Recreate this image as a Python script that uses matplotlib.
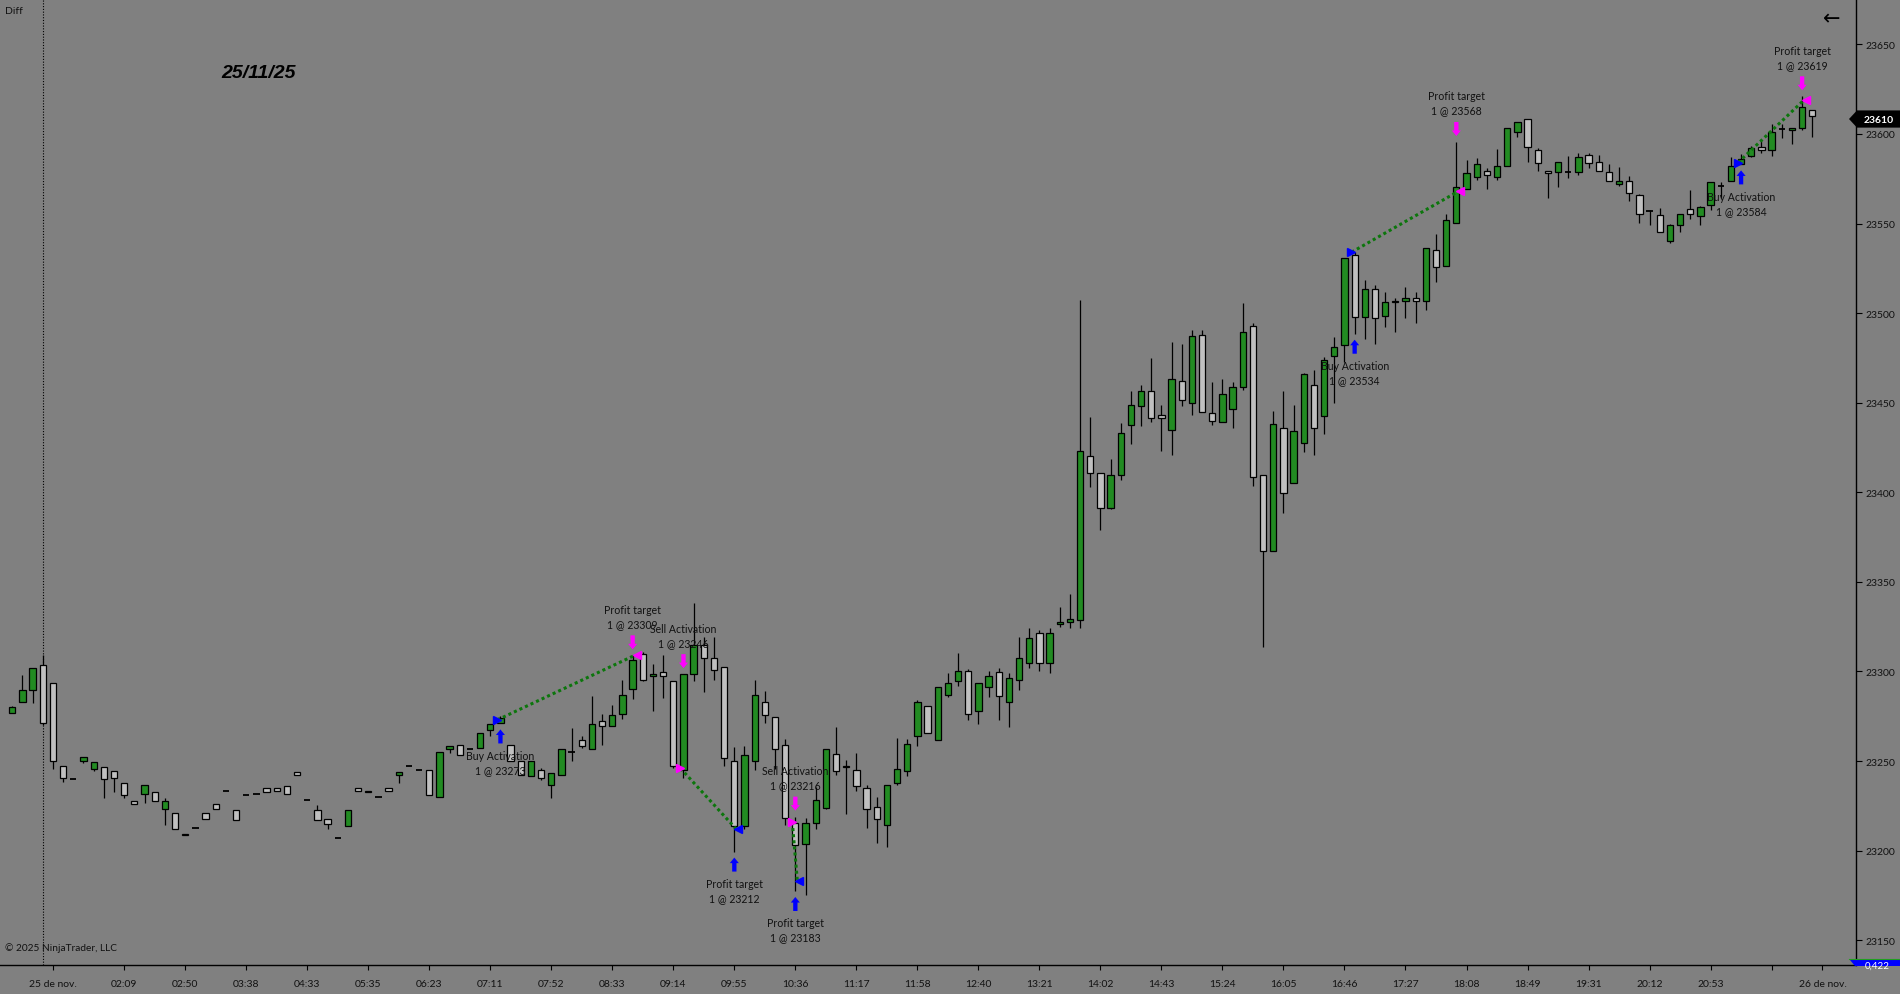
import matplotlib
matplotlib.use('Agg')
import matplotlib.pyplot as plt
import matplotlib.transforms as mtransforms
from matplotlib.patches import Polygon
import numpy as np

# velas (OHLC), una por barra
opens = [
    23277, 23283, 23289.5, 23303.5, 23293.5, 23247.5, 23240, 23250, 23245.5, 23246.5,
    23244.5, 23237.5, 23227.5, 23231.5, 23232.5, 23223.5, 23221, 23209.5, 23212.5, 23221,
    23226, 23233.5, 23222.5, 23231, 23231.5, 23235, 23235, 23236, 23244, 23228.5,
    23222.5, 23217.5, 23207, 23213.5, 23235, 23232.5, 23230, 23235, 23242.5, 23247.5,
    23245, 23245, 23230, 23256.5, 23259, 23256.5, 23257.5, 23267.5, 23271.5, 23259,
    23250, 23241.5, 23245, 23236.5, 23242.5, 23255, 23261.5, 23256.5, 23272.5, 23269.5,
    23276.5, 23290.5, 23309.5, 23297.5, 23299.5, 23294.5, 23245, 23298.5, 23315, 23307.5,
    23302.5, 23250, 23213.5, 23250, 23283, 23274.5, 23259, 23215.5, 23203.5, 23215.5,
    23224, 23254, 23246.5, 23245, 23235, 23224.5, 23214.5, 23237.5, 23244.5, 23264,
    23280.5, 23261.5, 23287, 23294.5, 23300.5, 23278, 23291.5, 23299.5, 23283, 23295.5,
    23304.5, 23321.5, 23304.5, 23326.5, 23327.5, 23328.5, 23420, 23411, 23391, 23409.5,
    23437.5, 23448, 23456.5, 23443, 23435, 23462, 23450, 23488, 23444, 23439,
    23446.5, 23459, 23493, 23409.5, 23367, 23436, 23405, 23427.5, 23460, 23442.5,
    23476, 23482, 23532.5, 23498, 23513.5, 23498.5, 23506, 23507, 23508.5, 23507,
    23535, 23526.5, 23550.5, 23569.5, 23576, 23579.5, 23576, 23582, 23601, 23608.5,
    23591, 23579.5, 23578.5, 23578.5, 23578.5, 23588.5, 23584.5, 23578.5, 23572, 23573.5,
    23566, 23557, 23554.5, 23540.5, 23549, 23558, 23554, 23560.5, 23571, 23573.5,
    23583, 23587.5, 23592.5, 23591, 23602.5, 23602, 23603.5, 23613.5,
]
highs = [
    23281, 23298, 23302, 23309, 23293.5, 23247.5, 23240, 23252.5, 23249.5, 23246.5,
    23244.5, 23237.5, 23227.5, 23236.5, 23232.5, 23229.5, 23221, 23209.5, 23212.5, 23221,
    23226, 23233.5, 23222.5, 23231, 23231.5, 23235, 23235, 23236, 23244, 23228.5,
    23225.5, 23217.5, 23207, 23222.5, 23235, 23233.5, 23230, 23235, 23244, 23247.5,
    23245, 23245, 23255, 23258.5, 23259, 23256.5, 23265.5, 23270.5, 23275, 23259,
    23250, 23250, 23246, 23243.5, 23256.5, 23268.5, 23264, 23286.5, 23276.5, 23281.5,
    23295, 23309, 23311, 23304, 23309, 23294.5, 23298.5, 23338, 23319, 23319,
    23302.5, 23258, 23258.5, 23295, 23289, 23274.5, 23262.5, 23219, 23218, 23235.5,
    23256.5, 23269, 23250.5, 23254.5, 23236.5, 23230, 23236.5, 23263, 23262.5, 23284,
    23280.5, 23291.5, 23299, 23310.5, 23301.5, 23293.5, 23300, 23302, 23299, 23319,
    23324.5, 23323, 23324, 23336, 23343.5, 23507.5, 23442, 23411, 23418.5, 23438.5,
    23456.5, 23460, 23475, 23448.5, 23484, 23482.5, 23490.5, 23490.5, 23461.5, 23463.5,
    23461.5, 23505.5, 23494.5, 23409.5, 23445.5, 23456.5, 23448.5, 23466.5, 23468.5, 23475.5,
    23486.5, 23531, 23534, 23518.5, 23515.5, 23512, 23508.5, 23514.5, 23512, 23536.5,
    23544, 23555.5, 23595.5, 23585.5, 23586.5, 23581, 23591.5, 23603.5, 23606.5, 23608.5,
    23592, 23579.5, 23584.5, 23587.5, 23589.5, 23589.5, 23588, 23583, 23581.5, 23576.5,
    23566.5, 23557.5, 23558.5, 23550, 23555.5, 23568.5, 23560, 23573, 23573, 23587,
    23589, 23593, 23596.5, 23605.5, 23605.5, 23603.5, 23621, 23613.5,
]
lows = [
    23277, 23283, 23282.5, 23270, 23245.5, 23238.5, 23240, 23249, 23244.5, 23229.5,
    23232.5, 23229.5, 23226, 23226.5, 23227.5, 23214.5, 23212, 23208.5, 23212.5, 23217.5,
    23223.5, 23233.5, 23217, 23231, 23231.5, 23232.5, 23233.5, 23231.5, 23242.5, 23228.5,
    23217, 23212, 23207, 23213.5, 23233.5, 23232.5, 23230, 23233.5, 23237.5, 23247.5,
    23245, 23231, 23230, 23254.5, 23253.5, 23256.5, 23257.5, 23264, 23271, 23250,
    23242, 23241.5, 23239.5, 23229.5, 23242.5, 23250, 23257.5, 23256.5, 23259, 23269.5,
    23273.5, 23284.5, 23294.5, 23278, 23285, 23246, 23240.5, 23294.5, 23288.5, 23295.5,
    23247.5, 23199.5, 23212, 23245, 23271, 23245.5, 23214.5, 23177.5, 23175.5, 23212,
    23223.5, 23242.5, 23220.5, 23233.5, 23212.5, 23204.5, 23202, 23236.5, 23241.5, 23258.5,
    23265.5, 23261.5, 23285.5, 23292, 23273, 23270.5, 23285.5, 23273, 23269, 23289.5,
    23302, 23300.5, 23299, 23325, 23324.5, 23324.5, 23403, 23379, 23390.5, 23407,
    23427, 23437, 23439, 23423, 23421, 23448, 23443, 23445, 23437.5, 23439,
    23436, 23457, 23403.5, 23313.5, 23367, 23388.5, 23405, 23422.5, 23421, 23432.5,
    23450, 23472.5, 23488.5, 23485.5, 23482.5, 23492, 23489.5, 23497, 23494.5, 23502,
    23517.5, 23526.5, 23550.5, 23569, 23574.5, 23569.5, 23574.5, 23582, 23598.5, 23584.5,
    23579.5, 23564, 23570.5, 23575.5, 23577, 23581, 23579.5, 23573.5, 23571, 23562.5,
    23550.5, 23549, 23545.5, 23539, 23545.5, 23552.5, 23549, 23557.5, 23564.5, 23573.5,
    23583, 23587, 23589.5, 23587.5, 23597.5, 23594.5, 23602, 23598.5,
]
closes = [
    23280, 23289.5, 23302, 23271.5, 23250, 23240.5, 23240, 23252.5, 23249.5, 23240,
    23240.5, 23231, 23226, 23236.5, 23227.5, 23227.5, 23212, 23208.5, 23212.5, 23217.5,
    23223.5, 23233.5, 23217, 23231, 23231.5, 23232.5, 23233.5, 23231.5, 23242.5, 23228.5,
    23217, 23215, 23207, 23222.5, 23233.5, 23233.5, 23230, 23233.5, 23244, 23247.5,
    23245, 23231, 23255, 23258.5, 23253.5, 23256.5, 23265.5, 23270.5, 23274, 23250,
    23242, 23250, 23240.5, 23243.5, 23256.5, 23255, 23258.5, 23270.5, 23269.5, 23275.5,
    23287, 23306.5, 23295.5, 23298.5, 23297.5, 23247.5, 23298.5, 23315, 23307.5, 23301,
    23251.5, 23213.5, 23253.5, 23287, 23275.5, 23256.5, 23218.5, 23203, 23215.5, 23228.5,
    23256.5, 23244.5, 23247.5, 23236, 23223.5, 23217.5, 23236.5, 23245.5, 23259.5, 23283,
    23265.5, 23291.5, 23293.5, 23300.5, 23276.5, 23293.5, 23297.5, 23286.5, 23296.5, 23307.5,
    23318.5, 23304.5, 23321.5, 23327.5, 23329.5, 23423, 23411, 23391, 23409.5, 23433,
    23449, 23456.5, 23441.5, 23441.5, 23463, 23451.5, 23487, 23445, 23440, 23455,
    23459, 23489.5, 23408.5, 23367, 23438, 23399.5, 23434, 23466, 23436, 23474,
    23481, 23531, 23498, 23513.5, 23497, 23506, 23507, 23508.5, 23507, 23536.5,
    23526, 23552, 23570.5, 23578, 23583, 23577, 23582, 23603.5, 23606.5, 23592.5,
    23583.5, 23578, 23584.5, 23578.5, 23587, 23583.5, 23579.5, 23573.5, 23573.5, 23567,
    23555.5, 23557, 23545.5, 23549, 23555.5, 23555.5, 23559, 23573, 23571, 23582,
    23586, 23592, 23591, 23601, 23602.5, 23603.5, 23615, 23610,
]

tick_bars = [4] + list(range(11, 174, 6)) + [178]
tick_labels = ['25 de nov.', '02:09', '02:50', '03:38', '04:33', '05:35', '06:23', '07:11',
               '07:52', '08:33', '09:14', '09:55', '10:36', '11:17', '11:58', '12:40',
               '13:21', '14:02', '14:43', '15:24', '16:05', '16:46', '17:27', '18:08',
               '18:49', '19:31', '20:12', '20:53', '', '26 de nov.']

# operaciones: barra entrada, barra salida, lado, precio entrada, precio salida
trades = [
    (48, 61, 'long', 23273, 23309),
    (66, 71, 'short', 23246, 23212),
    (77, 77, 'short', 23216, 23183),
    (132, 142, 'long', 23534, 23568),
    (170, 176, 'long', 23584, 23619),
]
last_price = 23610

BG = '#808080'
UP = '#228b22'
DOWN = '#c0c0c0'
TXT = '#111111'
PT = 0.72  # puntos por pixel (dpi 100)
FONT = 'Lato'

W, H = 1900, 995
fig = plt.figure(figsize=(W / 100, H / 100), dpi=100, facecolor=BG)
ax = fig.add_axes([0, 29 / H, 1856 / W, 966 / H], facecolor=BG)

o = np.array(opens); h = np.array(highs); l = np.array(lows); c = np.array(closes)
x = np.arange(len(o))

ax.vlines(x, l, h, color='black', lw=0.9, zorder=2)
body = c != o
cols = np.where(c > o, UP, DOWN)
ax.bar(x[body], np.abs(c - o)[body], bottom=np.minimum(o, c)[body], width=0.62,
       color=cols[body], edgecolor='black', linewidth=0.9, zorder=3)
ax.hlines(c[~body], x[~body] - 0.31, x[~body] + 0.31, color='black', lw=1.3, zorder=3)

ax.axvline(3, color='black', ls=(0, (1, 1.5)), lw=0.8, zorder=1)


def marker(bar, below, color, lines):
    s = -1 if below else 1
    ext = lows[bar] if below else highs[bar]
    ax.annotate('', xy=(bar, ext), xytext=(0, s * 20 * PT), textcoords='offset points',
                arrowprops=dict(arrowstyle='simple,head_length=4,head_width=6.5,tail_width=3.1',
                                mutation_scale=1, color=color, lw=0,
                                shrinkA=0, shrinkB=6 * PT), zorder=6)
    seq = lines if below else lines[::-1]
    for k, t in enumerate(seq):
        ax.annotate(t, xy=(bar, ext), xytext=(0, s * (32 + 14 * k) * PT),
                    textcoords='offset points', ha='center', va='center',
                    fontsize=7.6, color=TXT, family=FONT, zorder=7)


for eb, xb, side, ep, xp in trades:
    ecol, xcol = ('blue', 'magenta') if side == 'long' else ('magenta', 'blue')
    ax.plot([eb - 0.3, xb + 0.2], [ep, xp], color='#0c760c', ls=(0, (1, 1)), lw=2.2, zorder=4)
    ax.plot(eb - 0.35, ep, marker='>', color=ecol, ms=6, zorder=5)
    ax.plot(xb + 0.4, xp, marker='<', color=xcol, ms=6, zorder=5)
    name = 'Buy Activation' if side == 'long' else 'Sell Activation'
    marker(eb, side == 'long', ecol, [name, f'1 @ {ep}'])
    marker(xb, side != 'long', xcol, ['Profit target', f'1 @ {xp}'])

ax.set_xlim(-1.21, 181.3)
ax.set_ylim(23136.2, 23675.3)

ax.yaxis.tick_right()
ax.set_yticks(np.arange(23150, 23651, 50))
ax.set_xticks(tick_bars)
ax.set_xticklabels(tick_labels)
ax.tick_params(axis='y', direction='out', length=4.3, width=0.8, pad=2.5,
               labelsize=7.5, colors='black', labelcolor=TXT)
ax.tick_params(axis='x', direction='out', length=3.6, width=0.8, pad=6.5,
               labelsize=7.5, colors='black', labelcolor=TXT)
for lab in ax.get_xticklabels() + ax.get_yticklabels():
    lab.set_family(FONT)
for side in ['left', 'top']:
    ax.spines[side].set_visible(False)
for side in ['right', 'bottom']:
    ax.spines[side].set_color('black')
    ax.spines[side].set_linewidth(1)

fig.text(5 / W, 1 - 11 / H, 'Diff', ha='left', va='center', fontsize=7.5, color=TXT, family=FONT)
fig.text(259 / W, 1 - 74 / H, '25/11/25', ha='center', va='center', fontsize=14,
         fontweight='bold', fontstyle='italic', family='Liberation Sans', color='black')
fig.text(1832 / W, 1 - 19 / H, '\u2190', ha='center', va='center', fontsize=15, color='black',
         family='DejaVu Sans')
fig.text(5 / W, 1 - 948 / H, '\u00a9 2025 NinjaTrader, LLC', ha='left', va='center',
         fontsize=7.3, color=TXT, family=FONT)

# etiqueta del ultimo precio (un poco por debajo, como en NinjaTrader)
box_tr = mtransforms.blended_transform_factory(fig.transFigure, ax.transData) + \
    mtransforms.ScaledTranslation(0, -3 / 100, fig.dpi_scale_trans)
hh = 4.8
box = Polygon([(1849 / W, last_price), (1857 / W, last_price + hh), (1.0, last_price + hh),
               (1.0, last_price - hh), (1857 / W, last_price - hh)], closed=True,
              transform=box_tr, facecolor='black', edgecolor='none', clip_on=False, zorder=10)
fig.add_artist(box)
fig.text(1879 / W, last_price, str(last_price), transform=box_tr, ha='center', va='center',
         fontsize=7.5, color='white', fontweight='bold', family=FONT, zorder=11)

# etiqueta del indicador abajo a la derecha
blue = Polygon([(1850 / W, 1 - 960.5 / H), (1.0, 1 - 960.5 / H), (1.0, 1 - 967 / H),
                (1855 / W, 1 - 967 / H)], closed=True, transform=fig.transFigure,
               facecolor='blue', edgecolor='none', zorder=10)
fig.add_artist(blue)
fig.add_artist(plt.Line2D([1849 / W, 1.0], [1 - 960.3 / H] * 2, transform=fig.transFigure,
                          color='#1f9f1f', lw=0.8, zorder=11))
t = fig.text(1877 / W, 1 - 966 / H, '0,422', ha='center', va='center', fontsize=7,
             color='white', family=FONT, zorder=12)
t.set_clip_path(blue)

fig.savefig('out.png', dpi=100, facecolor=BG)
